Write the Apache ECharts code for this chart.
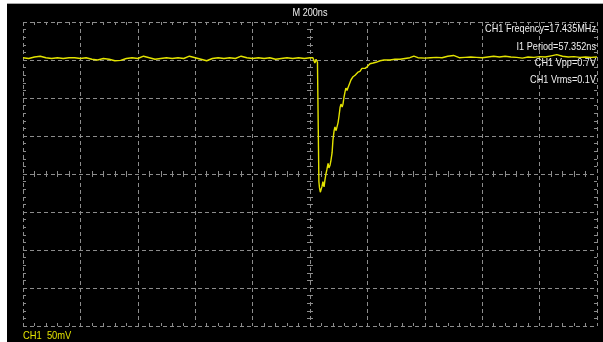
<!DOCTYPE html>
<html>
<head>
<meta charset="utf-8">
<script src="https://cdn.jsdelivr.net/npm/echarts@6/dist/echarts.min.js"></script>
<style>
html,body{margin:0;padding:0;background:#fff;}
#chart{width:603px;height:342px;}
</style>
</head>
<body>
<div id="chart"></div>
<script>
// Time (ns) relative to trigger, 200 ns/div
var timesNs = [
 -1000,-980,-960,-940,-920,-900,-880,-860,-840,-820,
 -800,-780,-760,-740,-720,-700,-680,-660,-640,-620,
 -600,-580,-560,-540,-520,-500,-480,-460,-440,-420,
 -400,-380,-360,-340,-320,-300,-280,-260,-240,-220,
 -200,-180,-160,-140,-120,-100,-80,-60,-40,-20,0,
 10,17,21,26,29,31,33,36,38,42,45,49,52,56,59,63,66,70,73,77,80,84,87,91,94,98,
 101,105,108,112,115,118,122,125,129,132,136,143,150,157,167,174,181,192,199,
 209,220,230,244,258,279,296,314,331,348,362,376,
 400,420,440,460,480,500,520,540,560,580,600,620,640,660,680,700,720,740,760,780,
 800,820,840,860,880,900,920,940,960,980,1000
];
// CH1 voltage (mV), 50 mV/div
var ch1mV = [
 153,152,154,155,153,152,153,152,153,153,
 152,153,151,150,152,151,149,149.5,152,153,
 152,155,153,151,152,153,152,153,152,155,
 153,151,149,152,153,152,153,152,155,153,
 152,153,152,153,151,152,153,152,153,152,153,
 153,146,151,147,146,-10,-18,-24,-26,-16,-10,-17,-8,1,6,14,8,12,18,28,45,57,62,57,58,68,
 76,88,92,88,92,100,108,113,110,113,117,124,128,130,134,135,139,139,141,
 145,146,147,149,150,150,151,151,152,153,155,153,
 152.5,153,153.5,153,155,156,153,153.5,154,153.5,153,154,155,154,155,154,153.5,152.5,154,153.5,
 154.5,154,155.5,157,155,154,154.5,153.5,154,153.5,154
];
var xTicksNs = {min:-1000, max:1000, step:200};
var yTicksMv = {min:-200, max:200, step:50};
var topLabel = 'M 200ns';
var measureLabels = ['CH1 Freqency=17.435MHz','I1 Period=57.352ns','CH1 Vpp=0.7V','CH1 Vrms=0.1V'];
var chLabel = 'CH1  50mV';

var GRAY = '#8c8c8c';
var DASH = [4,3];
var pts = timesNs.map(function(t,i){return [t, ch1mV[i]];});

function xAx(pos, opts){
  var a = {
    type:'value', min:xTicksNs.min, max:xTicksNs.max, interval:xTicksNs.step,
    position:pos,
    axisLine:{show:false, onZero:false},
    axisTick:{show:false, inside:true},
    minorTick:{show:true, splitNumber:5, length:3, lineStyle:{color:GRAY, width:1}},
    splitLine:{show:false},
    axisLabel:{show:false}
  };
  return Object.assign(a, opts||{});
}
function yAx(pos, opts){
  var a = {
    type:'value', min:yTicksMv.min, max:yTicksMv.max, interval:yTicksMv.step,
    position:pos,
    axisLine:{show:false, onZero:false},
    axisTick:{show:false, inside:true},
    minorTick:{show:true, splitNumber:5, length:3, lineStyle:{color:GRAY, width:1}},
    splitLine:{show:false},
    axisLabel:{show:false}
  };
  return Object.assign(a, opts||{});
}

var chart = echarts.init(document.getElementById('chart'), null, {renderer:'canvas'});
chart.setOption({
  animation:false,
  backgroundColor:'#ffffff',
  grid:{left:23, top:22, width:574, height:304, show:false},
  xAxis:[
    xAx('bottom', {splitLine:{show:true, lineStyle:{color:GRAY, type:DASH, width:1}}}),
    xAx('top'),
    xAx('bottom', {axisLine:{show:false, onZero:true, onZeroAxisIndex:0}, axisTick:{show:false, inside:true}}),
    xAx('bottom', {axisLine:{show:false, onZero:true, onZeroAxisIndex:0}, axisTick:{show:false, inside:false}})
  ],
  yAxis:[
    yAx('left', {splitLine:{show:true, lineStyle:{color:GRAY, type:DASH, width:1}}}),
    yAx('right'),
    yAx('left', {axisLine:{show:false, onZero:true, onZeroAxisIndex:0}, axisTick:{show:false, inside:true}}),
    yAx('left', {axisLine:{show:false, onZero:true, onZeroAxisIndex:0}, axisTick:{show:false, inside:false}})
  ],
  series:[{
    type:'line', xAxisIndex:0, yAxisIndex:0, data:pts,
    showSymbol:false, symbol:'none',
    lineStyle:{color:'#e3e300', width:1.4},
    z:5
  }],
  graphic:[
    {type:'rect', z:-100, silent:true, shape:{x:7, y:3, width:596, height:339}, style:{fill:'#000'}},
    {type:'line', z:-90, silent:true, shape:{x1:7, y1:3.5, x2:603, y2:3.5}, style:{stroke:'#a8a8a8', lineWidth:1}},
    {type:'text', z:10, x:310, y:13, scaleX:0.83, style:{text:topLabel, fill:'#f0f0f0', font:'11px "Liberation Sans", Arial, sans-serif', textAlign:'center', textVerticalAlign:'middle'}},
    {type:'text', z:10, x:596, y:29, scaleX:0.83, style:{text:measureLabels[0], fill:'#f0f0f0', font:'11px "Liberation Sans", Arial, sans-serif', textAlign:'right', textVerticalAlign:'middle'}},
    {type:'text', z:10, x:596, y:47, scaleX:0.83, style:{text:measureLabels[1], fill:'#f0f0f0', font:'11px "Liberation Sans", Arial, sans-serif', textAlign:'right', textVerticalAlign:'middle'}},
    {type:'text', z:10, x:596, y:63, scaleX:0.83, style:{text:measureLabels[2], fill:'#f0f0f0', font:'11px "Liberation Sans", Arial, sans-serif', textAlign:'right', textVerticalAlign:'middle'}},
    {type:'text', z:10, x:596, y:80, scaleX:0.83, style:{text:measureLabels[3], fill:'#f0f0f0', font:'11px "Liberation Sans", Arial, sans-serif', textAlign:'right', textVerticalAlign:'middle'}},
    {type:'text', z:10, x:23, y:336, scaleX:0.85, style:{text:chLabel, fill:'#e3e300', font:'11px "Liberation Sans", Arial, sans-serif', textAlign:'left', textVerticalAlign:'middle'}}
  ]
});
</script>
</body>
</html>
